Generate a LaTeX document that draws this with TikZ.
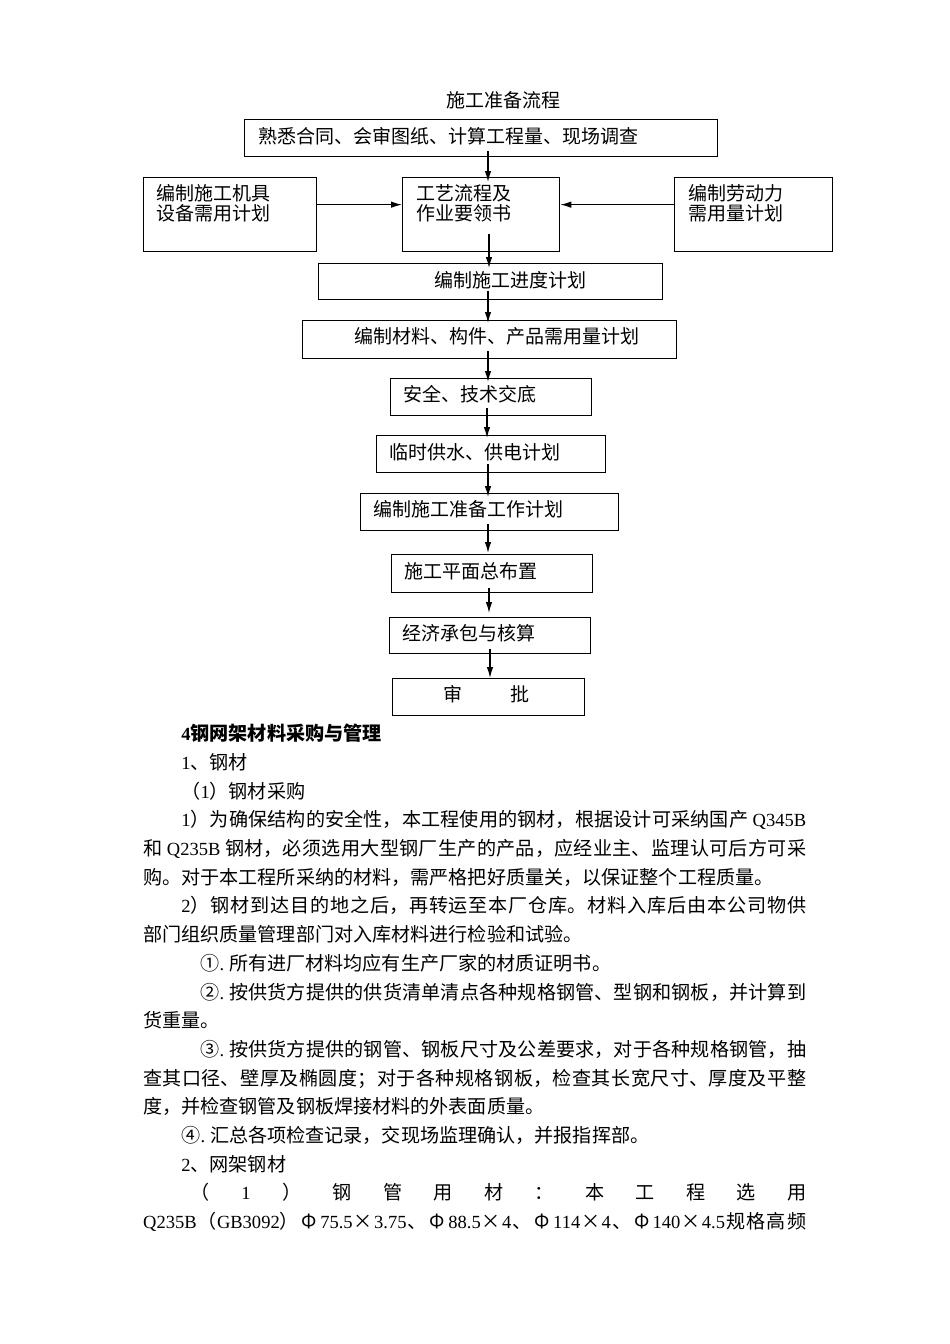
\documentclass[tikz,border=0pt]{standalone}
\usepackage{fontspec}
\setmainfont{Noto Sans CJK SC}
\newfontfamily\latnum{Liberation Serif}[Scale=0.97]
\newcommand\hw[1]{{\latnum #1}}
\newcommand\fw[1]{\makebox[1em]{#1}}
\newcommand\dotw{\makebox[0.5em][l]{\hw{.}}}
\newcommand\gp{\hspace{0pt plus 1fil}}
\XeTeXlinebreaklocale "zh"
\XeTeXlinebreakskip=0pt plus 2pt minus 0.6pt
\XeTeXlinebreakpenalty=10000
\usetikzlibrary{arrows.meta}
\tikzset{
  box/.style={draw, line width=1.3pt, inner sep=0pt, anchor=north west},
  txt/.style={inner sep=0pt, anchor=west, font=\fontsize{19}{20}\selectfont, align=left},
  arr/.style={line width=1.2pt, -{Latex[length=11pt,width=6.5pt]}},
  bodytext/.style={inner sep=0pt, anchor=north west, text width=663pt, align=justify,
    font=\fontsize{19.1}{28.7}\selectfont}
}
\begin{document}
\begin{tikzpicture}[x=1pt,y=-1pt]
\fill[white] (0,0) rectangle (950,1344);
\useasboundingbox (0,0) rectangle (950,1344);

% title
\node[txt, anchor=center] (title) at (503,100) {施工准备流程};

% boxes
\node[box, minimum width=473pt, minimum height=37pt] (b1) at (244,119) {};
\node[txt] at (258,136) {熟悉合同、会审图纸、计算工程量、现场调查};

\node[box, minimum width=173pt, minimum height=74pt] (bl) at (143,177) {};
\node[txt] at (156,203) {编制施工机具\\设备需用计划};

\node[box, minimum width=157pt, minimum height=74pt] (bc) at (402,177) {};
\node[txt] at (416,203) {工艺流程及\\作业要领书};

\node[box, minimum width=158pt, minimum height=74pt] (br) at (674,177) {};
\node[txt] at (688,203) {编制劳动力\\需用量计划};

\node[box, minimum width=344pt, minimum height=36pt] (b3) at (318,263) {};
\node[txt] at (434,280) {编制施工进度计划};

\node[box, minimum width=374pt, minimum height=38pt] (b4) at (302,320) {};
\node[txt] at (354,336) {编制材料、构件、产品需用量计划};

\node[box, minimum width=201pt, minimum height=37pt] (b5) at (390,378) {};
\node[txt] at (403,394) {安全、技术交底};

\node[box, minimum width=229pt, minimum height=37pt] (b6) at (376,435) {};
\node[txt] at (389,452) {临时供水、供电计划};

\node[box, minimum width=258pt, minimum height=37pt] (b7) at (360,493) {};
\node[txt] at (373,509) {编制施工准备工作计划};

\node[box, minimum width=201pt, minimum height=38pt] (b8) at (391,554) {};
\node[txt] at (404,571) {施工平面总布置};

\node[box, minimum width=201pt, minimum height=36pt] (b9) at (389,617) {};
\node[txt] at (402,633) {经济承包与核算};

\node[box, minimum width=192pt, minimum height=37pt] (b10) at (392,678) {};
\node[txt] at (443,694) {审\hspace{48pt}批};

% connectors
\coordinate (sp) at (488,0);
\draw[arr] ([yshift=6pt]b1.south -| sp) -- ([yshift=-5pt]bc.north -| sp);
\draw[arr] ([yshift=18pt,xshift=1pt]bc.south -| sp) -- ([yshift=-5pt,xshift=1pt]b3.north -| sp);
\draw[arr] ([yshift=9pt]b3.south -| sp) -- ([yshift=-3pt]b4.north -| sp);
\draw[arr] ([yshift=8pt]b4.south -| sp) -- ([yshift=-4pt]b5.north -| sp);
\draw[arr] ([yshift=8pt,xshift=-1pt]b5.south -| sp) -- ([yshift=-3pt,xshift=-1pt]b6.north -| sp);
\draw[arr] ([yshift=9pt]b6.south -| sp) -- ([yshift=-4pt]b7.north -| sp);
\draw[arr] ([yshift=7pt]b7.south -| sp) -- ([yshift=1pt]b8.north -| sp);
\draw[arr] ([yshift=5pt,xshift=1pt]b8.south -| sp) -- ([yshift=4pt,xshift=1pt]b9.north -| sp);
\draw[arr] ([yshift=5pt,xshift=2pt]b9.south -| sp) -- ([xshift=2pt]b10.north -| sp);
\draw[arr] ([yshift=10pt]bl.east) -- ([yshift=10pt]bc.west);
\draw[arr] ([yshift=10pt]br.west) -- ([yshift=10pt]bc.east);

% body text
\node[bodytext] (body) at (143,724) {%
\hspace*{2em}{\bfseries \hw{4}钢网架材料采购与管理}\par
\hspace*{2em}\hw{1}、钢材\par
\hspace*{2em}（\hw{1}）钢材采购\par
\hspace*{2em}\hw{1}）为确保结构的安全性，本工程使用的钢材，根据设计可采纳国产 \hw{Q345B}\linebreak
和 \hw{Q235B} 钢材，必须选用大型钢厂生产的产品，应经业主、监理认可后方可采\linebreak
购。对于本工程所采纳的材料，需严格把好质量关，以保证整个工程质量。\par
\hspace*{2em}\hw{2}）钢材到达目的地之后，再转运至本厂仓库。材料入库后由本公司物供\linebreak
部门组织质量管理部门对入库材料进行检验和试验。\par
\hspace*{3em}①\dotw 所有进厂材料均应有生产厂家的材质证明书。\par
\hspace*{3em}②\dotw 按供货方提供的供货清单清点各种规格钢管、型钢和钢板，并计算到\linebreak
货重量。\par
\hspace*{3em}③\dotw 按供货方提供的钢管、钢板尺寸及公差要求，对于各种规格钢管，抽\linebreak
查其口径、壁厚及椭圆度；对于各种规格钢板，检查其长宽尺寸、厚度及平整\linebreak
度，并检查钢管及钢板焊接材料的外表面质量。\par
\hspace*{2em}④\dotw 汇总各项检查记录，交现场监理确认，并报指挥部。\par
\hspace*{2em}\hw{2}、网架钢材\par
\hspace*{2.5em}（ \hw{1} ） 钢 管 用 材 ： 本 工 程 选 用\linebreak
\makebox[\linewidth][s]{\hw{Q235B}\gp（\hw{GB3092}）\gp\fw{Φ}\gp\hw{75.5}\gp\fw{×}\gp\hw{3.75}\gp、\gp\fw{Φ}\gp\hw{88.5}\gp\fw{×}\gp\hw{4}\gp、\gp\fw{Φ}\gp\hw{114}\gp\fw{×}\gp\hw{4}\gp、\gp\fw{Φ}\gp\hw{140}\gp\fw{×}\gp\hw{4.5}\gp 规\gp 格\gp 高\gp 频}\par
};
\end{tikzpicture}
\end{document}
